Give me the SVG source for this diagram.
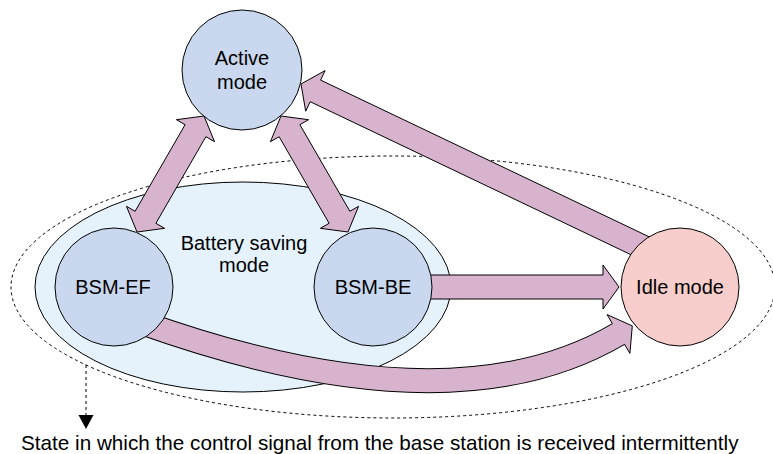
<svg xmlns="http://www.w3.org/2000/svg" width="773" height="454" viewBox="0 0 773 454">
  <defs>
    <style>
      .lbl { font-family: "Liberation Sans", Arial, Helvetica, sans-serif; font-size: 20px; fill: #000; text-anchor: middle; }
      .note { font-family: "Liberation Sans", Arial, Helvetica, sans-serif; font-size: 20.7px; fill: #000; }
      .node { fill: #c9d8ee; stroke: #000; stroke-width: 1; }
      .idle { fill: #f8cecc; stroke: #000; stroke-width: 1; }
      .arrow { fill: #d8b3cd; stroke: #000; stroke-width: 1; stroke-linejoin: miter; }
      .dash { fill: none; stroke: #000; stroke-width: 1; stroke-dasharray: 3 3; }
    </style>
  </defs>
  <rect width="773" height="454" fill="#ffffff"/>

  <g id="intermittent-scope">
    <ellipse class="dash" cx="393" cy="287" rx="382" ry="131"/>
  </g>

  <g id="battery-saving-mode">
    <ellipse cx="243" cy="287" rx="208" ry="105" fill="#e5f2fc" stroke="#000" stroke-width="1"/>
    <text class="lbl" x="244" y="250">Battery saving</text>
    <text class="lbl" x="244" y="272">mode</text>
  </g>

  <g id="connectors">
    <polygon class="arrow" points="137,232 164.55,228.3 155.89,223.3 205.89,136.7 214.55,141.7 204,116 176.45,119.7 185.11,124.7 135.11,211.3 126.45,206.3"/>
    <polygon class="arrow" points="348,232 320.45,228.3 329.11,223.3 279.11,136.7 270.45,141.7 281,116 308.55,119.7 299.89,124.7 349.89,211.3 358.55,206.3"/>
    <polygon class="arrow" points="644.8,261.3 310.2,101.7 305.7,111.2 301,84 325.1,70.6 320.6,80.1 655.2,239.7"/>
    <polygon class="arrow" points="420,275 603,275 603,265 619,287 603,309 603,299 420,299"/>
    <path d="M 140 322 Q 450 433 618.5 334 L 620.2 333" fill="none" stroke="#000" stroke-width="25"/>
    <path d="M 140 322 Q 450 433 618.5 334 L 620.2 333" fill="none" stroke="#d8b3cd" stroke-width="23"/>
    <path class="arrow" d="M 624.6 344.3 L 629.9 353.4 L 632.3 325.9 L 607.1 314.6 L 612.4 323.7"/>
    <line class="dash" x1="86" y1="365" x2="86" y2="415"/>
    <polygon points="78.5,415 93.5,415 86,429" fill="#000"/>
  </g>

  <g id="active-mode">
    <circle class="node" cx="242" cy="70" r="60"/>
    <text class="lbl" x="242" y="65">Active</text>
    <text class="lbl" x="242" y="89">mode</text>
  </g>

  <g id="bsm-ef">
    <circle class="node" cx="114" cy="287" r="59"/>
    <text class="lbl" x="113" y="294">BSM-EF</text>
  </g>

  <g id="bsm-be">
    <circle class="node" cx="373" cy="287" r="59"/>
    <text class="lbl" x="373" y="294">BSM-BE</text>
  </g>

  <g id="idle-mode">
    <circle class="idle" cx="680" cy="287" r="59"/>
    <text class="lbl" x="680" y="294">Idle mode</text>
  </g>

  <g id="note">
    <text class="note" x="21" y="450">State in which the control signal from the base station is received intermittently</text>
  </g>
</svg>
